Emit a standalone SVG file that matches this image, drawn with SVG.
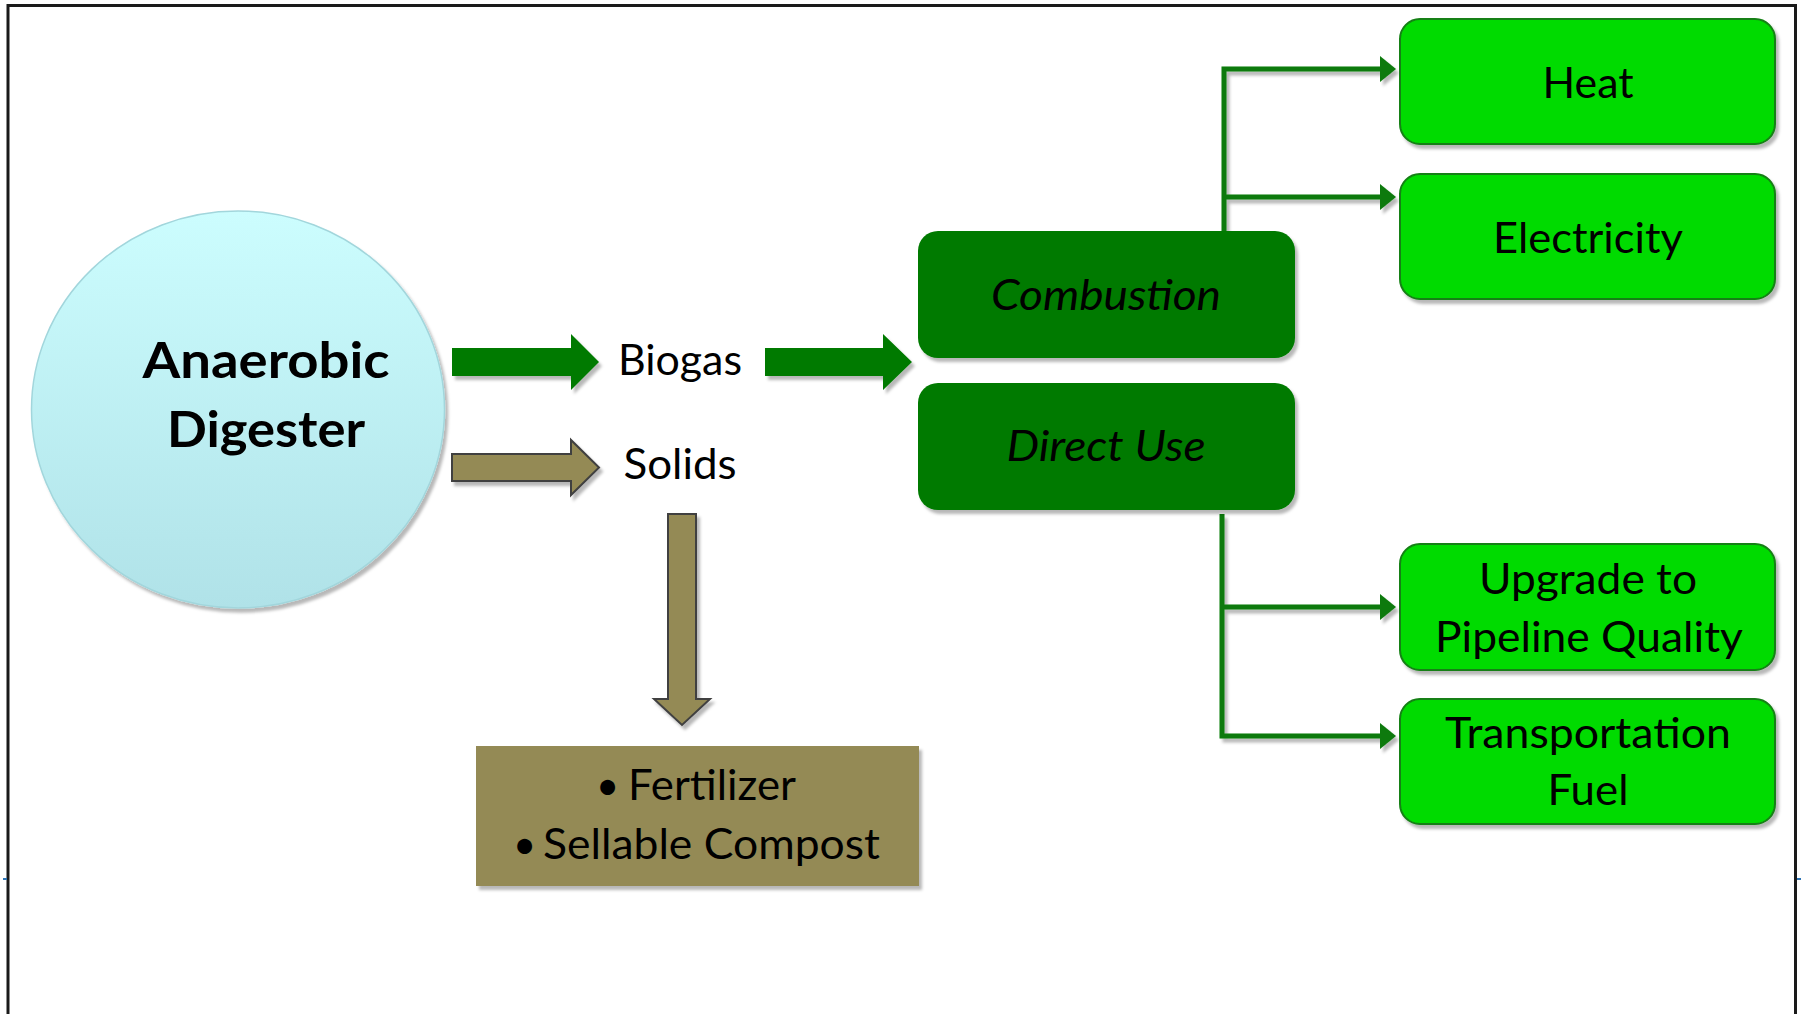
<svg xmlns="http://www.w3.org/2000/svg" width="1802" height="1014" viewBox="0 0 1802 1014">
  <defs>
    <linearGradient id="tank" x1="0" y1="0" x2="0" y2="1">
      <stop offset="0" stop-color="#CCFDFE"/>
      <stop offset="1" stop-color="#B0E2E8"/>
    </linearGradient>
    <filter id="shadow" x="-10%" y="-10%" width="130%" height="140%">
      <feDropShadow dx="3" dy="4" stdDeviation="1.6" flood-color="#000" flood-opacity="0.28"/>
    </filter>
    <marker id="head" markerUnits="userSpaceOnUse" markerWidth="16" markerHeight="26" refX="0" refY="13" orient="auto" overflow="visible">
      <path d="M0,0 L16,13 L0,26 Z" fill="#0B7A0B"/>
    </marker>
    <style>
      text { font-family: Lato, "Open Sans", "Liberation Sans", sans-serif; fill: #000; }
      .big { font-size: 49px; font-weight: 700; }
      .lbl { font-size: 42px; }
      .it { font-size: 42px; font-style: italic; }
      .dark { fill: #017A01; }
      .lime { fill: #00DB00; stroke: #148014; stroke-width: 2; }
      .gas { fill: #017A01; }
      .solid { fill: #948A54; stroke: #404040; stroke-width: 2; }
      .link { fill: none; stroke: #0B7A0B; stroke-width: 5; }
      .dot { fill: #000; }
    </style>
  </defs>

  <rect width="1802" height="1014" fill="#fff"/>
  <!-- slide frame (open at the bottom) -->
  <path d="M8,1014 V5.5 H1795.5 V1014" fill="none" stroke="#1a1a1a" stroke-width="3"/>
  <rect x="3" y="878" width="4" height="2" fill="#2E75B6"/>
  <rect x="1797" y="878" width="4" height="2" fill="#2E75B6"/>

  <!-- digester tank -->
  <g id="digester">
    <ellipse cx="238" cy="409.5" rx="206.5" ry="198.5" fill="url(#tank)" stroke="#A2D6DC" stroke-width="1.5" filter="url(#shadow)"/>
    <text class="big" x="266" y="378" text-anchor="middle" textLength="247" lengthAdjust="spacingAndGlyphs">Anaerobic</text>
    <text class="big" x="266" y="447" text-anchor="middle" textLength="198" lengthAdjust="spacingAndGlyphs">Digester</text>
  </g>

  <!-- block arrows and flow lines -->
  <g id="connectors">
    <g filter="url(#shadow)">
      <path class="gas" d="M452,348 H571 V334 L599,362 L571,390 V376 H452 Z"/>
      <path class="gas" d="M765,348 H883 V334 L912,362 L883,390 V376 H765 Z"/>
      <path class="solid" d="M452,454 H571 V440 L599,467.5 L571,495 V481 H452 Z"/>
      <path class="solid" d="M668,514 H696 V699 H710 L682,725 L654,699 H668 Z"/>
    </g>
    <g filter="url(#shadow)">
      <path class="link" d="M1224,234 V69 H1380" marker-end="url(#head)"/>
      <path class="link" d="M1224,197 H1380" marker-end="url(#head)"/>
      <path class="link" d="M1222,514 V736 H1380" marker-end="url(#head)"/>
      <path class="link" d="M1222,607 H1380" marker-end="url(#head)"/>
    </g>
  </g>

  <g id="biogas">
    <text class="lbl" x="680" y="375" text-anchor="middle" textLength="124" lengthAdjust="spacingAndGlyphs">Biogas</text>
  </g>
  <g id="solids">
    <text class="lbl" x="680" y="479" text-anchor="middle" textLength="113" lengthAdjust="spacingAndGlyphs">Solids</text>
  </g>

  <g id="solid-products">
    <rect x="476" y="746" width="443" height="140" fill="#948A54" filter="url(#shadow)"/>
    <text class="lbl"><tspan x="596" y="800" font-size="40">•</tspan><tspan x="628" y="800" textLength="168" lengthAdjust="spacingAndGlyphs">Fertilizer</tspan></text>
    <text class="lbl"><tspan x="513" y="859" font-size="40">•</tspan><tspan x="543" y="859" textLength="337" lengthAdjust="spacingAndGlyphs">Sellable Compost</tspan></text>
  </g>

  <g id="combustion">
    <rect class="dark" x="918" y="231" width="377" height="127" rx="20" filter="url(#shadow)"/>
    <text class="it" x="1106" y="310" text-anchor="middle" textLength="230" lengthAdjust="spacingAndGlyphs">Combustion</text>
  </g>
  <g id="direct-use">
    <rect class="dark" x="918" y="383" width="377" height="127" rx="20" filter="url(#shadow)"/>
    <text class="it" x="1106" y="461" text-anchor="middle" textLength="199" lengthAdjust="spacingAndGlyphs">Direct Use</text>
  </g>

  <g id="heat">
    <rect class="lime" x="1400" y="19" width="375" height="125" rx="20" filter="url(#shadow)"/>
    <text class="lbl" x="1588" y="98" text-anchor="middle" textLength="91" lengthAdjust="spacingAndGlyphs">Heat</text>
  </g>
  <g id="electricity">
    <rect class="lime" x="1400" y="174" width="375" height="125" rx="20" filter="url(#shadow)"/>
    <text class="lbl" x="1588" y="253" text-anchor="middle" textLength="190" lengthAdjust="spacingAndGlyphs">Electricity</text>
  </g>
  <g id="pipeline">
    <rect class="lime" x="1400" y="544" width="375" height="126" rx="20" filter="url(#shadow)"/>
    <text class="lbl" x="1588" y="594" text-anchor="middle" textLength="218" lengthAdjust="spacingAndGlyphs">Upgrade to</text>
    <text class="lbl" x="1589" y="652" text-anchor="middle" textLength="308" lengthAdjust="spacingAndGlyphs">Pipeline Quality</text>
  </g>
  <g id="transport-fuel">
    <rect class="lime" x="1400" y="699" width="375" height="125" rx="20" filter="url(#shadow)"/>
    <text class="lbl" x="1588" y="748" text-anchor="middle" textLength="286" lengthAdjust="spacingAndGlyphs">Transportation</text>
    <text class="lbl" x="1588" y="805" text-anchor="middle" textLength="81" lengthAdjust="spacingAndGlyphs">Fuel</text>
  </g>
</svg>
